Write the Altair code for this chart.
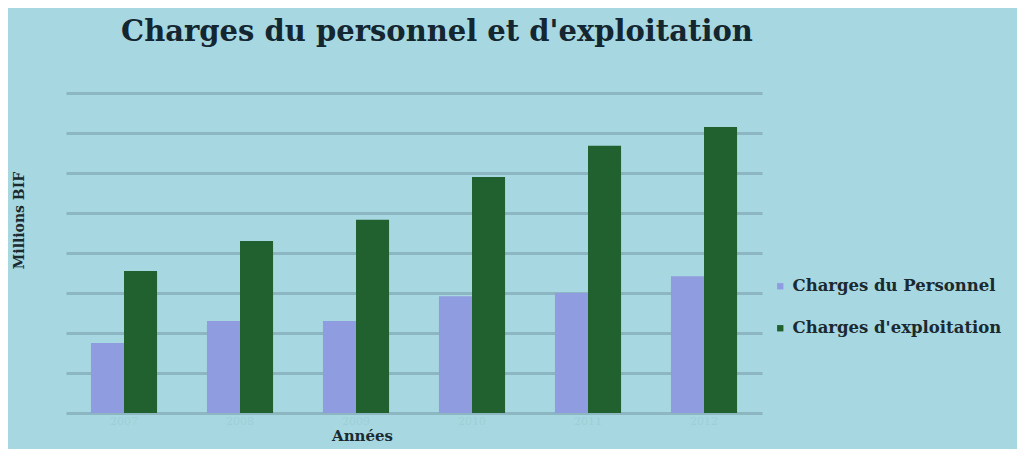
import altair as alt
import pandas as pd

years = ["2007", "2008", "2009", "2010", "2011", "2012"]
personnel = [1.75, 2.3, 2.3, 2.92, 3.0, 3.42]
exploitation = [3.55, 4.3, 4.83, 5.9, 6.68, 7.15]
series = ["Charges du Personnel", "Charges d'exploitation"]
colors = ["#8f9de0", "#21602f"]
grid_values = [0, 1, 2, 3, 4, 5, 6, 7, 8]

rows = []
for i, y in enumerate(years):
    rows.append({"Année": y, "Série": series[0], "Valeur": personnel[i]})
    rows.append({"Année": y, "Série": series[1], "Valeur": exploitation[i]})
df = pd.DataFrame(rows)

font = "DejaVu Serif"

chart = alt.Chart(df).mark_bar().encode(
    x=alt.X("Année:N", sort=years,
            scale=alt.Scale(paddingInner=0.43, paddingOuter=0.215),
            axis=alt.Axis(title="Années", titleFont=font, titleFontWeight="bold",
                          titleFontSize=15, titleColor="#1a2a30",
                          titleX=296, titleY=15,
                          labelAngle=0, labelColor="#9dd0d6", labelFontSize=11,
                          labelFont=font, ticks=False, domain=False, grid=False)),
    xOffset=alt.XOffset("Série:N", sort=series),
    y=alt.Y("Valeur:Q", scale=alt.Scale(domain=[0, 8], nice=False, zero=True),
            axis=alt.Axis(title="Millions BIF", titleFont=font, titleFontWeight="bold",
                          titleFontSize=14, titleColor="#1a2a30",
                          titleX=-40, titleY=127, titleAngle=-90,
                          labels=False, ticks=False, domain=False,
                          values=grid_values, labelOverlap=False,
                          grid=True, gridColor="#8db6c3", gridWidth=3)),
    color=alt.Color("Série:N", sort=series,
                    scale=alt.Scale(domain=series, range=colors),
                    legend=alt.Legend(title=None, orient="none", legendX=706, legendY=185,
                                      labelFont=font, labelFontWeight="bold",
                                      labelFontSize=16.5, labelColor="#1a2a30",
                                      symbolType="square", symbolSize=40,
                                      rowPadding=25, labelLimit=300)),
).properties(
    width=696, height=320,
    autosize=alt.AutoSizeParams(type="none"),
    padding={"left": 58, "top": 85, "right": 255, "bottom": 36},
    title=alt.TitleParams("Charges du personnel et d'exploitation",
                          font=font, fontWeight="bold", fontSize=29,
                          color="#142630", anchor="middle", dx=23, offset=46),
).configure(
    background="#a7d7e0"
).configure_view(stroke=None)

chart.save("out.html", embed_options={"renderer": "svg", "actions": False})
